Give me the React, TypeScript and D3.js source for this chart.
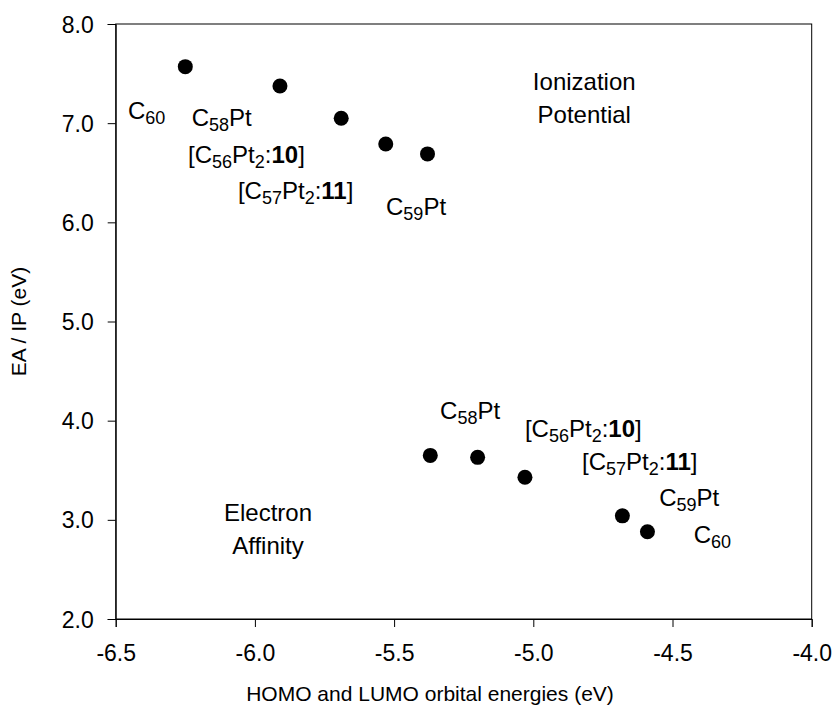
import React, { useEffect, useRef } from "react";
import * as d3 from "d3";

// ---- data ----
const ipX = [-6.25, -5.91, -5.69, -5.53, -5.38];
const ipY = [7.57, 7.375, 7.05, 6.79, 6.69];
const eaX = [-5.37, -5.2, -5.03, -4.68, -4.59];
const eaY = [3.65, 3.63, 3.43, 3.04, 2.88];

const xTicks = [-6.5, -6.0, -5.5, -5.0, -4.5, -4.0];
const yTicks = [2, 3, 4, 5, 6, 7, 8];

const xTitle = "HOMO and LUMO orbital energies (eV)";
const yTitle = "EA / IP (eV)";

type Seg = { t: string; sub?: boolean; bold?: boolean };
const C60: Seg[] = [{ t: "C" }, { t: "60", sub: true }];
const C58Pt: Seg[] = [{ t: "C" }, { t: "58", sub: true }, { t: "Pt" }];
const C59Pt: Seg[] = [{ t: "C" }, { t: "59", sub: true }, { t: "Pt" }];
const C56: Seg[] = [
  { t: "[C" }, { t: "56", sub: true }, { t: "Pt" }, { t: "2", sub: true },
  { t: ":" }, { t: "10", bold: true }, { t: "]" },
];
const C57: Seg[] = [
  { t: "[C" }, { t: "57", sub: true }, { t: "Pt" }, { t: "2", sub: true },
  { t: ":" }, { t: "11", bold: true }, { t: "]" },
];

// label anchors in data units (left/baseline)
const compoundLabels: { segs: Seg[]; x: number; y: number }[] = [
  { segs: C60, x: -6.456, y: 7.042 },
  { segs: C58Pt, x: -6.227, y: 6.971 },
  { segs: C56, x: -6.24, y: 6.601 },
  { segs: C57, x: -6.061, y: 6.235 },
  { segs: C59Pt, x: -5.529, y: 6.074 },
  { segs: C58Pt, x: -5.335, y: 4.012 },
  { segs: C56, x: -5.03, y: 3.839 },
  { segs: C57, x: -4.825, y: 3.505 },
  { segs: C59Pt, x: -4.548, y: 3.14 },
  { segs: C60, x: -4.424, y: 2.767 },
];

const regionLabels: { lines: string[]; x: number; y: number }[] = [
  { lines: ["Ionization", "Potential"], x: -4.817, y: 7.334 },
  { lines: ["Electron", "Affinity"], x: -5.953, y: 2.993 },
];

const W = 836;
const H = 706;
const M = { left: 115.7, right: 24.3, top: 24, bottom: 87 };
const FONT = "'Liberation Sans', Arial, Helvetica, sans-serif";

export default function App() {
  const ref = useRef<SVGSVGElement>(null);

  useEffect(() => {
    const svg = d3.select(ref.current);
    svg.selectAll("*").remove();

    const x = d3.scaleLinear().domain([-6.5, -4.0]).range([M.left, W - M.right]);
    const y = d3.scaleLinear().domain([2, 8]).range([H - M.bottom, M.top]);

    // frame
    svg.append("rect")
      .attr("x", x(-6.5)).attr("y", y(8))
      .attr("width", x(-4.0) - x(-6.5)).attr("height", y(2) - y(8))
      .attr("fill", "none").attr("stroke", "#000").attr("stroke-width", 1);

    const gx = svg.append("g").attr("transform", `translate(0,${y(2)})`)
      .call(d3.axisBottom(x).tickValues(xTicks).tickSize(8).tickPadding(18)
        .tickFormat((d) => (d as number).toFixed(1)));
    const gy = svg.append("g").attr("transform", `translate(${x(-6.5)},0)`)
      .call(d3.axisLeft(y).tickValues(yTicks).tickSize(8).tickPadding(14)
        .tickFormat((d) => (d as number).toFixed(1)));
    [gx, gy].forEach((g) => {
      g.select(".domain").attr("stroke", "#000");
      g.selectAll("line").attr("stroke", "#000");
      g.selectAll("text").attr("font-family", FONT).attr("font-size", 23).attr("fill", "#000");
    });
    gy.selectAll("text").attr("dy", "0.35em");

    // axis titles
    svg.append("text")
      .attr("x", 430).attr("y", 701)
      .attr("text-anchor", "middle").attr("font-family", FONT).attr("font-size", 21)
      .text(xTitle);
    svg.append("text")
      .attr("transform", `translate(26,${(y(2) + y(8)) / 2}) rotate(-90)`)
      .attr("text-anchor", "middle").attr("font-family", FONT).attr("font-size", 21)
      .text(yTitle);

    // points
    const pts = [
      ...ipX.map((v, i) => [v, ipY[i]]),
      ...eaX.map((v, i) => [v, eaY[i]]),
    ];
    svg.append("g").selectAll("circle").data(pts).join("circle")
      .attr("cx", (d) => x(d[0])).attr("cy", (d) => y(d[1]))
      .attr("r", 7.5).attr("fill", "#000");

    // compound labels
    compoundLabels.forEach((lab) => {
      const t = svg.append("text")
        .attr("x", x(lab.x)).attr("y", y(lab.y))
        .attr("font-family", FONT).attr("font-size", 24).attr("fill", "#000");
      let shifted = false;
      lab.segs.forEach((s) => {
        const ts = t.append("tspan").text(s.t);
        if (s.sub) {
          ts.attr("font-size", 18).attr("dy", shifted ? 0 : 5);
          shifted = true;
        } else {
          if (shifted) ts.attr("dy", -5);
          shifted = false;
        }
        if (s.bold) ts.attr("font-weight", "bold");
      });
    });

    // region labels
    regionLabels.forEach((lab) => {
      lab.lines.forEach((line, i) => {
        svg.append("text")
          .attr("x", x(lab.x)).attr("y", y(lab.y) + i * 33)
          .attr("text-anchor", "middle")
          .attr("font-family", FONT).attr("font-size", 24).attr("fill", "#000")
          .text(line);
      });
    });
  }, []);

  return (
    <svg
      ref={ref}
      width={W}
      height={H}
      style={{ position: "absolute", left: 0, top: 0, background: "#fff" }}
    />
  );
}
